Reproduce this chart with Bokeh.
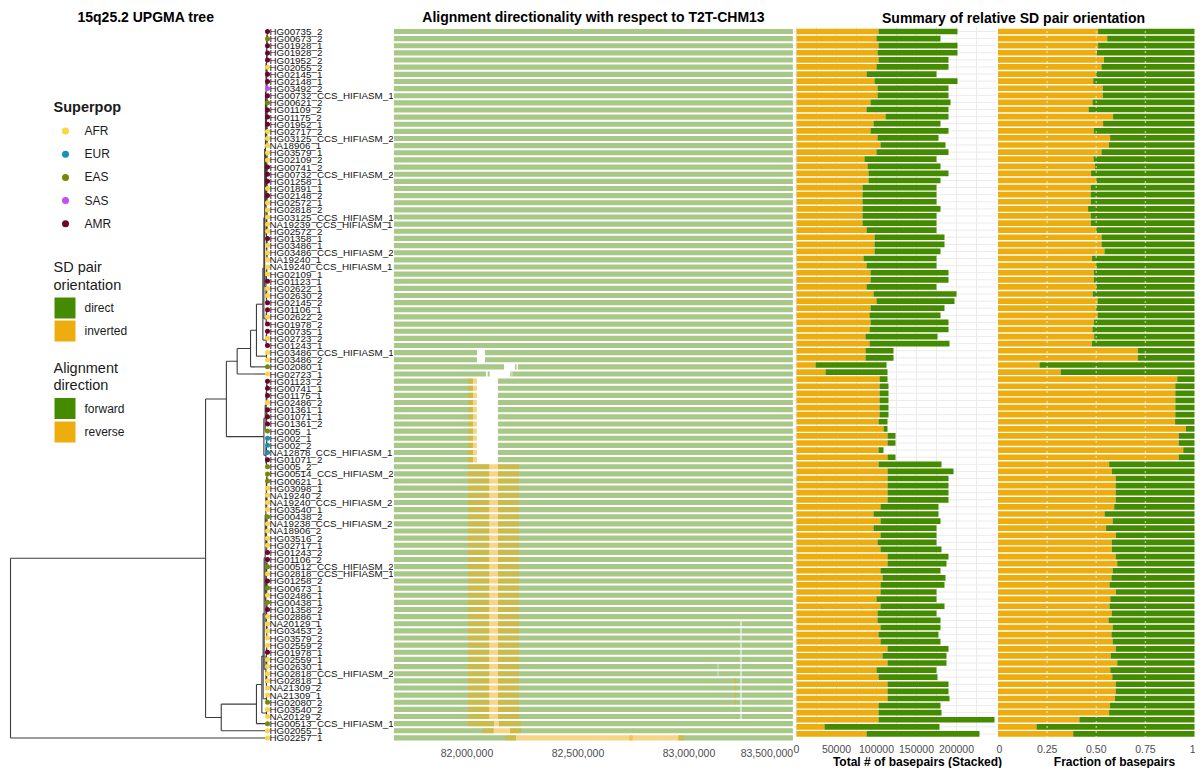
from bokeh.plotting import figure
from bokeh.layouts import row, column
from bokeh.models import (Range1d, LinearAxis, FixedTicker, NumeralTickFormatter,
                          ColumnDataSource)
from bokeh.core.properties import value
from bokeh.embed import file_html
from bokeh.resources import INLINE

# ---------------------------------------------------------------- data
labels = [
    "HG00735_2", "HG00673_2", "HG01928_1", "HG01928_2", "HG01952_2", "HG02055_2", "HG02145_1",
    "HG02148_1", "HG03492_2", "HG00732_CCS_HIFIASM_1", "HG00621_2", "HG01109_2", "HG01175_2",
    "HG01952_1", "HG02717_2", "HG03125_CCS_HIFIASM_2", "NA18906_1", "HG03579_1", "HG02109_2",
    "HG00741_2", "HG00732_CCS_HIFIASM_2", "HG01258_1", "HG01891_1", "HG02148_2", "HG02572_1",
    "HG02818_2", "HG03125_CCS_HIFIASM_1", "NA19239_CCS_HIFIASM_1", "HG02572_2", "HG01358_1",
    "HG03486_1", "HG03486_CCS_HIFIASM_2", "NA19240_1", "NA19240_CCS_HIFIASM_1", "HG02109_1",
    "HG01123_1", "HG02622_1", "HG02630_2", "HG02145_2", "HG01106_1", "HG02622_2", "HG01978_2",
    "HG00735_1", "HG02723_2", "HG01243_1", "HG03486_CCS_HIFIASM_1", "HG03486_2", "HG02080_1",
    "HG02723_1", "HG01123_2", "HG00741_1", "HG01175_1", "HG02486_2", "HG01361_1", "HG01071_1",
    "HG01361_2", "HG005_1", "HG002_1", "HG002_2", "NA12878_CCS_HIFIASM_1", "HG01071_2", "HG005_2",
    "HG00514_CCS_HIFIASM_2", "HG00621_1", "HG03098_1", "NA19240_2", "NA19240_CCS_HIFIASM_2",
    "HG03540_1", "HG00438_2", "NA19238_CCS_HIFIASM_2", "NA18906_2", "HG03516_2", "HG02717_1",
    "HG01243_2", "HG01106_2", "HG00512_CCS_HIFIASM_2", "HG02818_CCS_HIFIASM_1", "HG01258_2",
    "HG00673_1", "HG02486_1", "HG00438_1", "HG01358_2", "HG02886_1", "NA20129_1", "HG03453_2",
    "HG03579_2", "HG02559_2", "HG01978_1", "HG02559_1", "HG02630_1", "HG02818_CCS_HIFIASM_2",
    "HG02818_1", "NA21309_2", "NA21309_1", "HG02080_2", "HG03540_2", "NA20129_2",
    "HG00513_CCS_HIFIASM_1", "HG02055_1", "HG02257_1",
]
superpop = [
    "AMR", "EAS", "AMR", "AMR", "AMR", "AFR", "AMR", "AMR", "SAS", "AMR",
    "EAS", "AMR", "AMR", "AMR", "AFR", "AFR", "AFR", "AFR", "AFR", "AMR",
    "AMR", "AMR", "AFR", "AMR", "AFR", "AFR", "AFR", "AFR", "AFR", "AMR",
    "AFR", "AFR", "AFR", "AFR", "AFR", "AMR", "AFR", "AFR", "AMR", "AMR",
    "AFR", "AMR", "AMR", "AFR", "AMR", "AFR", "AFR", "EAS", "AFR", "AMR",
    "AMR", "AMR", "AFR", "AMR", "AMR", "AMR", "EAS", "EUR", "EUR", "EUR",
    "AMR", "EAS", "EAS", "EAS", "AFR", "AFR", "AFR", "AFR", "EAS", "AFR",
    "AFR", "AFR", "AFR", "AMR", "AMR", "EAS", "AFR", "AMR", "EAS", "AFR",
    "EAS", "AMR", "AFR", "AFR", "AFR", "AFR", "AFR", "AMR", "AFR", "AFR",
    "AFR", "AFR", "AFR", "AFR", "EAS", "AFR", "AFR", "EAS", "AFR", "AFR",
]
superpop_order = ["AFR", "EUR", "EAS", "SAS", "AMR"]
superpop_colors = ["#FDD443", "#1492B3", "#7A8800", "#C54CF8", "#700328"]

inverted_bp = [
    102500, 100000, 102500, 101250, 102500, 100000, 87500, 97500, 101250, 101250,
    92500, 87500, 111250, 96250, 92500, 101250, 105000, 100000, 85000, 88750,
    90000, 90000, 82500, 82500, 82500, 82500, 82500, 82500, 87500, 97500,
    97500, 97500, 83750, 87500, 92500, 92500, 87500, 96250, 100000, 92500,
    91250, 92500, 91250, 86250, 91250, 86250, 86250, 23750, 36250, 103750,
    103750, 103750, 103750, 103750, 103750, 102500, 108750, 113750, 113750, 102500,
    113750, 102500, 113750, 113750, 113750, 113750, 113750, 105000, 96250, 105000,
    96250, 105000, 101250, 105000, 113750, 113750, 105000, 107500, 105000, 105000,
    100000, 105000, 101250, 101250, 105000, 102500, 105000, 113750, 107500, 113750,
    100000, 102500, 113750, 113750, 113750, 102500, 102500, 102500, 35000, 87500,
]
direct_bp = [
    98750, 80000, 98750, 100000, 87500, 90000, 87500, 103750, 88750, 88750,
    100000, 102500, 78750, 83750, 97500, 76250, 81250, 90000, 90000, 91250,
    100000, 90000, 92500, 92500, 92500, 97500, 92500, 92500, 87500, 87500,
    87500, 82500, 91250, 87500, 97500, 97500, 87500, 103750, 97500, 92500,
    88750, 97500, 98750, 90000, 100000, 35000, 35000, 88750, 77500, 10000,
    11250, 11250, 11250, 11250, 11250, 11250, 5000, 10000, 10000, 6250,
    10000, 78750, 82500, 76250, 76250, 76250, 76250, 72500, 81250, 75000,
    78750, 70000, 73750, 76250, 76250, 73750, 75000, 78750, 80000, 70000,
    75000, 80000, 73750, 78750, 75000, 75000, 75000, 76250, 80000, 73750,
    75000, 73750, 76250, 76250, 77500, 77500, 78750, 145000, 143750, 141250,
]

# alignment blocks (start, end, direction) for each row pattern
aln_patterns = {
    "full": [(81671000, 83468000, "forward")],
    "gap_a": [(81671000, 82045000, "forward"), (82081000, 83468000, "forward")],
    "gap_b": [(81671000, 82166700, "forward"), (82216200, 82223000, "forward"),
              (82229700, 83468000, "forward")],
    "gap_c": [(81671000, 82085600, "forward"), (82093200, 82102200, "forward"),
              (82195000, 82201300, "forward"), (82204000, 83468000, "forward")],
    "del": [(81671000, 82027000, "forward"), (82004500, 82045000, "reverse"),
            (82139600, 83468000, "forward")],
    "inv": [(81671000, 82100000, "forward"), (82004500, 82234200, "reverse"),
            (82139600, 83468000, "forward")],
    "inv_g1": [(81671000, 82100000, "forward"), (82004500, 82234200, "reverse"),
               (82139600, 83232000, "forward"), (83236500, 83468000, "forward")],
    "inv_g2": [(81671000, 82100000, "forward"), (82004500, 82234200, "reverse"),
               (82139600, 83129500, "forward"), (83131800, 83232000, "forward"),
               (83236500, 83468000, "forward")],
    "inv_g3": [(81671000, 82100000, "forward"), (82004500, 82234200, "reverse"),
               (82139600, 83232000, "forward"), (83204900, 83211700, "reverse"),
               (83236500, 83468000, "forward")],
    "inv_98": [(81671000, 82121600, "forward"), (82004500, 82243200, "reverse"),
               (82144100, 83468000, "forward")],
    "inv_99": [(81671000, 82120000, "forward"), (82070700, 82243200, "reverse"),
               (82193700, 83468000, "forward")],
    "inv_100": [(81671000, 82220700, "forward"), (82172500, 82746300, "reverse"),
                (82731000, 82976100, "reverse"), (82951800, 83468000, "forward")],
}
row_pattern = (["full"] * 45 + ["gap_a"] * 2 + ["gap_b", "gap_c"] + ["del"] * 12
               + ["inv"] * 22 + ["inv_g1"] * 6 + ["inv_g2"] * 2 + ["inv_g3"] * 4
               + ["inv_g1"] * 2 + ["inv_98", "inv_99", "inv_100"])

# x-axis ticks as drawn in the picture (the last label sits left of the panel edge)
aln_ticks = [82000000, 82500000, 83000000, 83351000]
aln_tick_labels = ["82,000,000", "82,500,000", "83,000,000", "83,500,000"]
stack_ticks = [0, 50000, 100000, 150000, 200000]
frac_ticks = [0, 0.25, 0.5, 0.75, 1]
frac_tick_labels = ["0", "0.25", "0.50", "0.75", "1"]


# UPGMA tree: internal node = [height, child, child]; leaf = row number
def clade(lo, hi, h):
    if lo == hi:
        return lo
    mid = (lo + hi) // 2
    return [h, clade(lo, mid, h * 0.7), clade(mid + 1, hi, h * 0.7)]


J = [0.018, [0.014, [0.011, clade(1, 33, 0.008), clade(34, 39, 0.006)], clade(40, 42, 0.005)],
     clade(43, 45, 0.005)]
I = [0.043, J, [0.004, 46, 47]]
H = [0.066, I, 48]
G = [0.118, H, 49]
F = [0.014, [0.009, clade(50, 56, 0.005), 57], clade(58, 62, 0.006)]
B = [0.160, G, F]
E = [0.022, [0.017, [0.013, clade(63, 86, 0.009), clade(87, 93, 0.006)], clade(94, 95, 0.004)],
     clade(96, 97, 0.004)]
D = [0.043, E, 98]
C = [0.180, D, 99]
A = [0.241, B, C]
tree = [1.0, A, 100]

# ---------------------------------------------------------------- layout / styling
FONT = "Liberation Sans"
GREEN = "#458B00"
ORANGE = "#EEAD0E"
TOP = 26        # title band
FRAME = 715     # panel height
TICKS = 14      # tick label band
ATITLE = 13     # axis title band
FULL_H = TOP + FRAME + TICKS + ATITLE
Y_BOTTOM, Y_TOP = 100.5, 0.3
rows = list(range(1, len(labels) + 1))

TREE_W, ALN_W, STK_W, FRC_W = 393, 400, 203, 199


def panel_fig(width, height, x_range, top, bottom):
    p = figure(width=width, height=height, x_range=x_range, y_range=Range1d(Y_BOTTOM, Y_TOP),
               toolbar_location=None, output_backend="svg", x_axis_type=None, y_axis_type=None,
               min_border_top=top, min_border_bottom=bottom, min_border_left=0,
               min_border_right=0)
    p.outline_line_color = None
    p.background_fill_color = "white"
    p.border_fill_color = "white"
    return p


def set_title(p, text, align, offset):
    p.title.text = text
    p.title.text_font = FONT
    p.title.text_font_size = "14px"
    p.title.text_font_style = "bold"
    p.title.text_color = "black"
    p.title.align = align
    p.title.offset = offset
    p.title.standoff = 4


def strip_fig(width, height):
    p = figure(width=width, height=height, x_range=Range1d(0, width), y_range=Range1d(height, 0),
               toolbar_location=None, output_backend="svg", x_axis_type=None, y_axis_type=None,
               min_border=0)
    p.outline_line_color = None
    p.grid.visible = False
    return p


def style_axis(ax):
    ax.axis_line_color = None
    ax.major_tick_line_color = None
    ax.minor_tick_line_color = None
    ax.major_label_text_font = FONT
    ax.major_label_text_font_size = "10.5px"
    ax.major_label_text_color = "#4D4D4D"
    ax.major_label_standoff = 1


# ---------------------------------------------------------------- tree panel
TREE_UNIT = 257.0
tx0 = -1.0 - 10.0 / TREE_UNIT
ptree = panel_fig(TREE_W, FULL_H, Range1d(tx0, tx0 + TREE_W / TREE_UNIT), TOP,
                  TICKS + ATITLE)
set_title(ptree, "15q25.2 UPGMA tree", "left", 77)
ptree.extra_x_ranges = {"px": Range1d(0, TREE_W)}
ptree.extra_y_ranges = {"px": Range1d(TOP + FRAME, TOP)}

seg = {"x0": [], "y0": [], "x1": [], "y1": []}


def height(n):
    return 0.0 if isinstance(n, int) else n[0]


def walk(n):
    if isinstance(n, int):
        return float(n)
    h, a, b = n
    ya, yb = walk(a), walk(b)
    for xx0, yy0, xx1, yy1 in ((-h, ya, -h, yb), (-h, ya, -height(a), ya),
                               (-h, yb, -height(b), yb)):
        seg["x0"].append(xx0); seg["y0"].append(yy0)
        seg["x1"].append(xx1); seg["y1"].append(yy1)
    return (ya + yb) / 2.0


walk(tree)
ptree.segment(x0="x0", y0="y0", x1="x1", y1="y1", source=ColumnDataSource(seg),
              line_color="#3C3C3C", line_width=1.1)

cmap = dict(zip(superpop_order, superpop_colors))
tip_src = ColumnDataSource(dict(x=[0.0] * len(rows), y=rows, lab=labels,
                                col=[cmap[s] for s in superpop]))
ptree.scatter(x="x", y="y", size=5, fill_color="col", line_color=None, source=tip_src)
ptree.text(x="x", y="y", text="lab", source=tip_src, x_offset=2, text_baseline="middle",
           text_font=value(FONT), text_font_size="9.8px", text_color="#111111")


def ltext(x, y, t, size="12px", style="normal"):
    ptree.text(x=[x], y=[y], text=[t], x_range_name="px", y_range_name="px",
               text_baseline="middle", text_align="left", text_font=value(FONT),
               text_font_size=size, text_font_style=style, text_color="#1A1A1A")


ltext(53, 106, "Superpop", "14.5px", "bold")
for i, (sp, col) in enumerate(zip(superpop_order, superpop_colors)):
    yy = 130.5 + i * 23.2
    ptree.scatter(x=[65], y=[yy], size=7, fill_color=col, line_color=None,
                  x_range_name="px", y_range_name="px")
    ltext(84, yy, sp)

ltext(53, 266, "SD pair", "14.5px")
ltext(53, 284, "orientation", "14.5px")
for yy, col, t in ((307.5, GREEN, "direct"), (330.5, ORANGE, "inverted")):
    ptree.rect(x=[64.5], y=[yy], width=22, height=22, fill_color=col, line_color="white",
               line_width=1, x_range_name="px", y_range_name="px")
    ltext(84, yy, t)

ltext(53, 367, "Alignment", "14.5px")
ltext(53, 384, "direction", "14.5px")
for yy, col, t in ((408, GREEN, "forward"), (431.5, ORANGE, "reverse")):
    ptree.rect(x=[64.5], y=[yy], width=22, height=22, fill_color=col, line_color="white",
               line_width=1, x_range_name="px", y_range_name="px")
    ltext(84, yy, t)

# ---------------------------------------------------------------- alignment panel
BP_PER_PX = 4504.5
aln_start = 81669000
palign = panel_fig(ALN_W, FULL_H, Range1d(aln_start, aln_start + ALN_W * BP_PER_PX), TOP,
                   TICKS + ATITLE)
set_title(palign, "Alignment directionality with respect to T2T-CHM13", "center", 0)

blocks = {"forward": {"y": [], "l": [], "r": []}, "reverse": {"y": [], "l": [], "r": []}}
for r, pat in zip(rows, row_pattern):
    for s, e, d in aln_patterns[pat]:
        blocks[d]["y"].append(r); blocks[d]["l"].append(s); blocks[d]["r"].append(e)

palign.hbar(y="y", left="l", right="r", height=0.72, source=ColumnDataSource(blocks["forward"]),
            fill_color=GREEN, fill_alpha=0.47, line_color=None)
palign.hbar(y="y", left="l", right="r", height=0.72, source=ColumnDataSource(blocks["reverse"]),
            fill_color=ORANGE, fill_alpha=0.5, line_color=None)

ax = LinearAxis(ticker=FixedTicker(ticks=aln_ticks),
                major_label_overrides=dict(zip(aln_ticks, aln_tick_labels)))
style_axis(ax)
palign.add_layout(ax, "below")

# ---------------------------------------------------------------- summary panels
totals = [a + b for a, b in zip(inverted_bp, direct_bp)]
sum_src = ColumnDataSource(dict(
    row=rows, inverted=inverted_bp, direct=direct_bp,
    inv_frac=[a / t for a, t in zip(inverted_bp, totals)],
    dir_frac=[b / t for b, t in zip(direct_bp, totals)]))

BP_PER_PX_S = 1250.0
s_start = -3 * BP_PER_PX_S
pstack = panel_fig(STK_W, FRAME + TICKS, Range1d(s_start, s_start + STK_W * BP_PER_PX_S), 0,
                   TICKS)
grid_x = list(range(0, 250000, 25000))
pstack.segment(x0=grid_x, x1=grid_x, y0=[Y_BOTTOM] * len(grid_x), y1=[Y_TOP] * len(grid_x),
               line_color="#EBEBEB", line_width=1)
pstack.segment(x0=[s_start] * len(rows), x1=[s_start + STK_W * BP_PER_PX_S] * len(rows),
               y0=rows, y1=rows, line_color="#EBEBEB", line_width=1)
pstack.hbar_stack(["inverted", "direct"], y="row", height=0.8, color=[ORANGE, GREEN],
                  line_color=None, source=sum_src)
ax2 = LinearAxis(ticker=FixedTicker(ticks=stack_ticks), formatter=NumeralTickFormatter(format="0"))
style_axis(ax2)
pstack.add_layout(ax2, "below")

FRAC_PX = 196.5
f0 = -1.5 / FRAC_PX
pfrac = panel_fig(FRC_W, FRAME + TICKS, Range1d(f0, f0 + FRC_W / FRAC_PX), 0, TICKS)
pfrac.hbar_stack(["inv_frac", "dir_frac"], y="row", height=0.8, color=[ORANGE, GREEN],
                 line_color=None, source=sum_src)
vl = [0.25, 0.5, 0.75]
pfrac.segment(x0=vl, x1=vl, y0=[Y_BOTTOM] * 3, y1=[Y_TOP] * 3,
              line_color="white", line_width=1.5, line_dash="1 4")
ax3 = LinearAxis(ticker=FixedTicker(ticks=frac_ticks),
                 major_label_overrides=dict(zip(frac_ticks, frac_tick_labels)))
style_axis(ax3)
pfrac.add_layout(ax3, "below")

SUM_W = STK_W + FRC_W
ptitle = strip_fig(SUM_W, TOP)
ptitle.text(x=[220], y=[TOP - 9], text=["Summary of relative SD pair orientation"],
            text_align="center", text_baseline="middle", text_font=value(FONT),
            text_font_size="14px", text_font_style="bold", text_color="black")

paxis = strip_fig(SUM_W, ATITLE)
paxis.text(x=[124, 321], y=[6, 6],
           text=["Total # of basepairs (Stacked)", "Fraction of basepairs"],
           text_align="center", text_baseline="middle", text_font=value(FONT),
           text_font_size="12px", text_font_style="bold", text_color="black")

summary = column(ptitle, row(pstack, pfrac, spacing=0), paxis, spacing=0)
layout = row(ptree, palign, summary, spacing=0)
open("out.html", "w").write(file_html(layout, INLINE))
